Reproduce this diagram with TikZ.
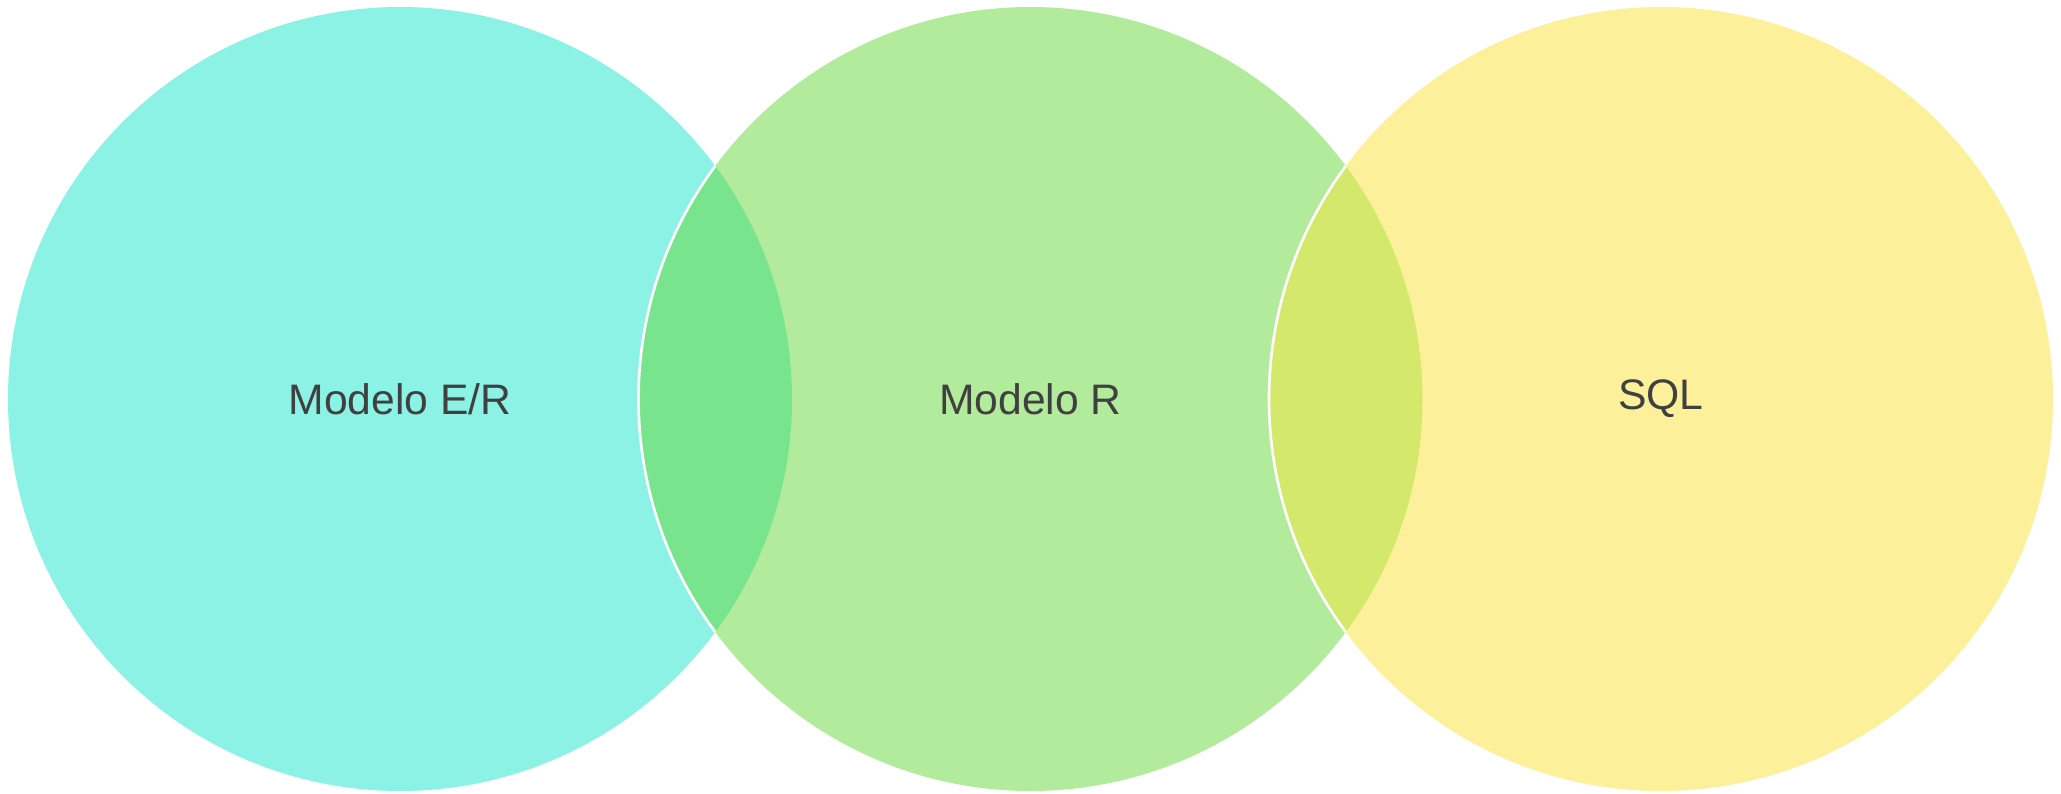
\documentclass[tikz,border=0pt]{standalone}
\usepackage{fontspec}
\setmainfont{Liberation Sans}
\definecolor{cyanc}{HTML}{8CF2E6}
\definecolor{greenc}{HTML}{B2EB9C}
\definecolor{yellowc}{HTML}{FCF09A}
\definecolor{lensone}{HTML}{78E48E}
\definecolor{lenstwo}{HTML}{D4E86B}
\definecolor{textc}{HTML}{404040}
\begin{document}
\begin{tikzpicture}[x=0.75pt,y=-0.75pt,
  lbl/.style={text=textc, font=\fontsize{32}{38}\selectfont, inner sep=0pt},
  sep/.style={draw=white, line width=2pt}]
\useasboundingbox (0,0) rectangle (2061,793);
\coordinate (cA) at (400,399);
\coordinate (cB) at (1030.5,399);
\coordinate (cC) at (1661,399);
\fill[cyanc] (cA) circle[radius=392];
\fill[greenc] (cB) circle[radius=392];
\fill[yellowc] (cC) circle[radius=392];
\begin{scope}
  \clip (cA) circle[radius=392];
  \fill[lensone] (cB) circle[radius=392];
  \draw[sep] (cB) circle[radius=392];
\end{scope}
\begin{scope}
  \clip (cB) circle[radius=392];
  \fill[lenstwo] (cC) circle[radius=392];
  \draw[sep] (cC) circle[radius=392];
\end{scope}
\node[lbl] (tA) at (cA) {Modelo E/R};
\node[lbl] (tB) at (cB) {Modelo R};
\node[lbl] (tC) at (cC) {SQL};
\end{tikzpicture}
\end{document}
